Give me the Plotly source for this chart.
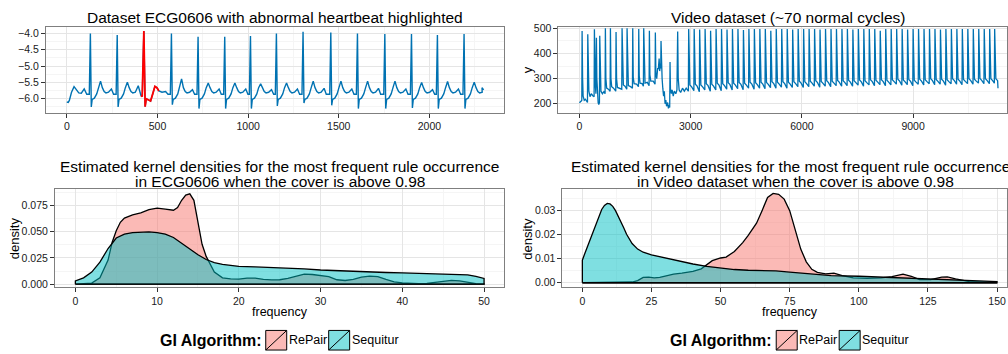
import plotly.graph_objects as go

W, H = 1008, 354
def fx(p):
    return p / W
def fy(p):
    return 1 - p / H

FONT = "Liberation Sans, Arial, sans-serif"
BLUE = "#0072B2"
RED = "#FF0000"
PINK_FILL = "rgba(248,118,109,0.5)"
CYAN_FILL = "rgba(0,191,196,0.5)"
PINK_KEY = "#FBBAB6"
CYAN_KEY = "#7FDFE1"

# ---------------- ECG0606 ----------------
ecg_lead_t = [0, 8, 14, 26, 40, 52, 66, 80, 96, 110]
ecg_lead_v = [-6.10, -6.11, -6.05, -5.80, -5.63, -5.72, -5.82, -5.83, -5.70, -5.86]
ecg_r_t = [130, 278, 425, 577, 724, 871, 1013, 1156, 1303, 1456, 1603, 1754, 1901, 2044, 2191]
ecg_r_v = [-4.00, -4.05, -3.93, -4.00, -4.10, -4.10, -4.08, -4.00, -3.95, -3.97, -4.00, -4.02, -4.02, -4.05, -4.02]
ecg_s_v = [-6.25, -6.25, -6.25, -6.18, -6.30, -6.30, -6.30, -6.22, -6.13, -6.20, -6.30, -6.30, -6.28, -6.30, -6.30]
ecg_t_v = [-5.46, -5.49, None, -5.39, -5.52, -5.52, -5.54, -5.52, -5.46, -5.46, -5.46, -5.46, -5.50, -5.47, -5.49]
ecg_p_v = [-5.70, -5.60, None, -5.72, -5.70, -5.70, -5.72, -5.70, -5.68, -5.70, -5.68, -5.70, -5.72, -5.70, None]
ecg_shape_dt = [-6, 0, 5, 10, 22, 35, 45, 56, 66, 76, 86, 100, 116, 128]
ecg_shape_v = [-5.86, "R", "S", -6.02, -5.98, -5.85, -5.66, "T", -5.66, -5.78, -5.82, -5.80, "P", -5.86]
ecg_red_index = 2
ecg_red_t = [409, 416, 425, 432, 438, 450, 462, 474, 486, 497, 508]
ecg_red_v = [-5.90, -5.93, -3.93, -6.24, -6.00, -6.03, -6.07, -5.85, -5.62, -5.66, -5.76]
ecg_after_red_t = [525, 545, 558]
ecg_after_red_v = [-5.80, -5.78, -5.86]
ecg_tail_t = [2290, 2299]
ecg_tail_v = [-5.66, -5.73]

# ---------------- Video dataset ----------------
vid_early_t = [0, 30, 55, 64, 72, 86, 100, 130, 160, 190, 217, 225, 238, 255, 285, 320, 360, 396, 404,
               418, 430, 445, 452, 458, 470, 485, 505, 521, 540, 548, 560, 580, 620, 660, 692, 700,
               714, 735, 780, 828, 836, 850, 870, 920, 980, 988, 1002, 1025, 1080, 1142, 1150, 1164,
               1185, 1230, 1277, 1285, 1299, 1320, 1380, 1430, 1438, 1452, 1475, 1540, 1592, 1600,
               1614, 1635, 1690, 1726, 1734, 1748, 1770, 1830, 1879, 1887, 1901, 1925, 1990, 2040,
               2048, 2062, 2085, 2110]
vid_early_v = [204, 207, 212, 214, 489, 300, 230, 214, 218, 210, 205, 476, 300, 250, 228, 240, 232, 228, 496,
               320, 270, 240, 300, 463, 300, 235, 205, 197, 205, 470, 300, 250, 240, 248, 240, 500,
               300, 262, 258, 250, 500, 300, 268, 262, 250, 485, 300, 265, 262, 258, 500, 300,
               275, 270, 258, 500, 305, 272, 268, 262, 500, 305, 280, 278, 268, 497,
               310, 282, 280, 270, 500, 310, 282, 285, 272, 490, 315, 290, 290, 278,
               483, 320, 300, 340]
vid_chaos_t = [2130, 2150, 2165, 2185, 2193, 2201, 2212, 2230, 2250, 2270, 2290, 2310, 2330, 2350,
               2380, 2400, 2420, 2435, 2444, 2455, 2480, 2500, 2530, 2560, 2600, 2630, 2650, 2665,
               2690, 2730, 2780, 2830, 2880, 2925]
vid_chaos_v = [340, 380, 330, 360, 340, 450, 330, 300, 260, 230, 250, 200, 215, 190,
               205, 182, 195, 185, 366, 260, 240, 255, 230, 250, 240, 255, 487, 300,
               255, 245, 262, 250, 262, 255]
vid_reg_t = [2947, 3095, 3243, 3390, 3538, 3686, 3833, 3981, 4128, 4276, 4424, 4571, 4719, 4867,
             5014, 5162, 5309, 5457, 5605, 5752, 5900, 6047, 6195, 6343, 6490, 6638, 6786, 6933,
             7081, 7228, 7376, 7524, 7671, 7819, 7966, 8114, 8262, 8409, 8557, 8705, 8852, 9000,
             9147, 9295, 9443, 9590, 9738, 9885, 10033, 10181, 10328, 10476, 10624, 10771, 10919,
             11066, 11200]
vid_reg_v = [497, 497, 495, 497, 490, 497, 497, 495, 497, 497, 493, 497, 497, 497,
             497, 490, 497, 497, 497, 495, 497, 497, 497, 497, 495, 497, 497, 497,
             497, 497, 495, 497, 497, 497, 497, 490, 497, 497, 497, 497, 495, 497,
             497, 497, 497, 497, 495, 497, 497, 497, 497, 497, 497, 497, 497,
             497, 497]
vid_reg_low = [250, 252, 248, 255, 250, 255, 252, 258, 255, 260, 256, 262, 258, 262,
               260, 264, 262, 266, 262, 265, 268, 265, 268, 270, 266, 270, 268, 272,
               270, 272, 270, 274, 270, 275, 272, 276, 272, 275, 278, 274, 276, 272,
               278, 275, 280, 276, 278, 274, 280, 278, 276, 280, 278, 282, 280,
               280, 282]
vid_reg_base = [275, 278, 275, 280, 278, 282, 280, 284, 282, 285, 282, 286, 284, 286,
                285, 288, 286, 288, 286, 288, 290, 288, 290, 292, 289, 292, 290, 293,
                292, 294, 292, 295, 292, 296, 294, 296, 294, 296, 298, 295, 297, 294,
                298, 296, 300, 297, 298, 296, 300, 298, 297, 300, 298, 301, 300,
                300, 300]
vid_tail_t = [11290]
vid_tail_v = [262]
vid_shape_dt = [-8, 0, 14, 32, 80]

# ---------------- Density estimates ----------------
ecg_rp_x = [0, 1, 2, 3, 4, 4.5, 5, 5.5, 6, 7, 8, 9, 10, 11, 12, 12.5, 13, 13.5, 14, 14.5, 15, 15.5, 16, 16.5, 17, 18, 19, 20,
            21, 22, 23, 24, 25, 26, 27, 28, 29, 30, 31, 32, 33, 34, 35, 36, 37, 38, 39, 40, 41, 42, 43,
            44, 45, 46, 47, 48, 49, 50]
ecg_rp_y = [0.0000, 0.0003, 0.0010, 0.0060, 0.0230, 0.0400, 0.0510, 0.0590, 0.0630, 0.0660, 0.0680, 0.0710, 0.0725,
            0.0715, 0.0705, 0.0730, 0.0800, 0.0850, 0.0862, 0.0800, 0.0600, 0.0380, 0.0265, 0.0190, 0.0115,
            0.0060, 0.0050, 0.0048, 0.0058, 0.0058, 0.0045, 0.0040, 0.0042, 0.0055, 0.0075, 0.0095, 0.0092,
            0.0085, 0.0072, 0.0042, 0.0035, 0.0045, 0.0068, 0.0077, 0.0072, 0.0045, 0.0022, 0.0012, 0.0008,
            0.0005, 0.0008, 0.0015, 0.0028, 0.0036, 0.0032, 0.0018, 0.0006, 0.0002]
ecg_sq_x = [0, 1, 2, 3, 4, 5, 6, 7, 8, 9, 10, 11, 12, 13, 14, 15, 16, 17, 18, 19, 20, 22, 25, 28, 30,
            33, 35, 38, 40, 43, 45, 47, 48, 49, 50]
ecg_sq_y = [0.0030, 0.0060, 0.0115, 0.0210, 0.0340, 0.0440, 0.0478, 0.0492, 0.0498, 0.0498, 0.0492,
            0.0478, 0.0445, 0.0390, 0.0335, 0.0280, 0.0235, 0.0205, 0.0188, 0.0177, 0.0170, 0.0164,
            0.0156, 0.0145, 0.0135, 0.0125, 0.0117, 0.0111, 0.0108, 0.0103, 0.0099, 0.0094, 0.0088,
            0.0075, 0.0055]
vid_sq_x = [0, 1, 2, 3, 4, 5, 6, 7, 8, 9, 10, 11, 12, 13, 14, 15, 16, 17, 18, 20, 22, 25, 30, 35, 40,
            45, 50, 55, 60, 65, 70, 75, 80, 85, 90, 100, 110, 120, 130, 140, 150]
vid_sq_y = [0.0094, 0.0125, 0.0155, 0.0190, 0.0220, 0.0250, 0.0280, 0.0305, 0.0322, 0.0330, 0.0328,
            0.0318, 0.0300, 0.0278, 0.0254, 0.0228, 0.0202, 0.0180, 0.0163, 0.0140, 0.0127, 0.0116,
            0.0103, 0.0090, 0.0078, 0.0068, 0.0060, 0.0055, 0.0052, 0.0051, 0.0049, 0.0044, 0.0039,
            0.0034, 0.0030, 0.0027, 0.0023, 0.0019, 0.0013, 0.0009, 0.0005]
vid_rp_x = [0, 10, 15, 18, 20, 22, 24, 26, 28, 30, 33, 36, 40, 43, 45, 47, 50, 52, 55, 58, 60, 63, 65, 67,
            69, 71, 73, 75, 77, 79, 81, 83, 85, 88, 91, 94, 98, 103, 108, 112, 116, 119, 122, 126, 130,
            132, 135, 140, 145, 150]
vid_rp_y = [0.0000, 0.0000, 0.0001, 0.0003, 0.0009, 0.0022, 0.0023, 0.0020, 0.0022, 0.0028, 0.0036,
            0.0040, 0.0047, 0.0058, 0.0074, 0.0092, 0.0103, 0.0107, 0.0130, 0.0167, 0.0197, 0.0248,
            0.0300, 0.0355, 0.0372, 0.0368, 0.0348, 0.0300, 0.0220, 0.0140, 0.0087, 0.0056, 0.0043,
            0.0037, 0.0040, 0.0030, 0.0020, 0.0018, 0.0020, 0.0025, 0.0036, 0.0027, 0.0013, 0.0013,
            0.0023, 0.0024, 0.0016, 0.0005, 0.0002, 0.0001]

# ---------------- build series ----------------
ecg_t, ecg_v = list(ecg_lead_t), list(ecg_lead_v)
for i, r in enumerate(ecg_r_t):
    if i == ecg_red_index:
        ecg_t += ecg_red_t + ecg_after_red_t
        ecg_v += ecg_red_v + ecg_after_red_v
        continue
    vals = {"R": ecg_r_v[i], "S": ecg_s_v[i], "T": ecg_t_v[i], "P": ecg_p_v[i]}
    for dt, lv in zip(ecg_shape_dt, ecg_shape_v):
        v = vals[lv] if isinstance(lv, str) else lv
        if v is None:
            break
        ecg_t.append(r + dt)
        ecg_v.append(v)
ecg_t += ecg_tail_t
ecg_v += ecg_tail_v

vid_t = list(vid_early_t) + list(vid_chaos_t)
vid_v = list(vid_early_v) + list(vid_chaos_v)
for p, h, l, b in zip(vid_reg_t, vid_reg_v, vid_reg_low, vid_reg_base):
    for dt, v in zip(vid_shape_dt, [l, h, b + 30, b, b - 8]):
        vid_t.append(p + dt)
        vid_v.append(v)
vid_t += vid_tail_t
vid_v += vid_tail_v

def closed(xs, ys):
    return [xs[0]] + list(xs) + [xs[-1], xs[0]], [0] + list(ys) + [0, 0]

fig = go.Figure()
fig.add_trace(go.Scatter(x=ecg_t, y=ecg_v, mode="lines", line=dict(color=BLUE, width=1.4),
                         xaxis="x", yaxis="y", showlegend=False))
fig.add_trace(go.Scatter(x=ecg_red_t, y=ecg_red_v, mode="lines", line=dict(color=RED, width=1.8),
                         xaxis="x", yaxis="y", showlegend=False))
fig.add_trace(go.Scatter(x=vid_t, y=vid_v, mode="lines", line=dict(color=BLUE, width=1.3),
                         xaxis="x2", yaxis="y2", showlegend=False))

for (xs, ys, col, ax, ay) in [(ecg_rp_x, ecg_rp_y, PINK_FILL, "x3", "y3"),
                              (ecg_sq_x, ecg_sq_y, CYAN_FILL, "x3", "y3"),
                              (vid_rp_x, vid_rp_y, PINK_FILL, "x4", "y4"),
                              (vid_sq_x, vid_sq_y, CYAN_FILL, "x4", "y4")]:
    cx, cy = closed(xs, ys)
    fig.add_trace(go.Scatter(x=cx, y=cy, mode="lines", fill="toself", fillcolor=col,
                             line=dict(color="black", width=1.3),
                             xaxis=ax, yaxis=ay, showlegend=False))

def axis(domain, rng, dtick, minor, anchor, tick0=0, fmt=None):
    d = dict(domain=domain, range=rng, dtick=dtick, tick0=tick0, anchor=anchor,
             showline=True, linecolor="#7F7F7F", linewidth=1, mirror=True,
             ticks="outside", ticklen=4, tickcolor="#333333", tickwidth=1,
             tickfont=dict(family=FONT, size=10.5, color="#1a1a1a"),
             showgrid=True, gridcolor="#E5E5E5", gridwidth=1, zeroline=False,
             minor=dict(dtick=minor, tick0=tick0, showgrid=True, gridcolor="#F5F5F5", gridwidth=1, ticks=""))
    if fmt:
        d["tickformat"] = fmt
    return d

top_y = [fy(110), fy(22)]
bot_y = [fy(288), fy(188)]
fig.update_layout(
    width=W, height=H, margin=dict(l=0, r=0, t=0, b=0),
    paper_bgcolor="white", plot_bgcolor="white",
    font=dict(family=FONT, color="black"),
    xaxis=axis([fx(46), fx(505)], [-115, 2414], 500, 250, "y", fmt="d"),
    yaxis=axis(top_y, [-6.43, -3.79], 0.5, 0.25, "x", tick0=-4, fmt=".1f"),
    xaxis2=axis([fx(559), 1.0], [-566, 11533], 3000, 1500, "y2", fmt="d"),
    yaxis2=axis(top_y, [164, 507], 100, 50, "x2", fmt="d"),
    xaxis3=axis([fx(55), fx(505)], [-2.5, 52.5], 10, 5, "y3", fmt="d"),
    yaxis3=axis(bot_y, [-0.003, 0.0905], 0.025, 0.0125, "x3", fmt=".3f"),
    xaxis4=axis([fx(563), 1.0], [-7.2, 153.6], 25, 12.5, "y4", fmt="d"),
    yaxis4=axis(bot_y, [-0.0019, 0.0389], 0.01, 0.005, "x4", fmt=".2f"),
)

ann = []
def text(x, y, s, size, bold=False, angle=0, xanchor="center"):
    ann.append(dict(x=fx(x), y=fy(y), xref="paper", yref="paper", text=("<b>%s</b>" % s) if bold else s,
                    showarrow=False, xanchor=xanchor, yanchor="middle", textangle=angle,
                    borderpad=0, font=dict(family=FONT, size=size, color="black")))

text(275.5, 13, "Dataset ECG0606 with abnormal heartbeat highlighted", 15.5)
text(789, 13, "Video dataset (~70 normal cycles)", 15.5)
text(280, 165, "Estimated kernel densities for the most frequent rule occurrence", 15.5)
text(280, 180, "in ECG0606 when the cover is above 0.98", 15.5)
text(791, 165, "Estimated kernel densities for the most frequent rule occurrence", 15.5)
text(796, 180, "in Video dataset when the cover is above 0.98", 15.5)
text(528, 66, "y", 13, angle=-90)
text(14, 238, "density", 13, angle=-90)
text(528, 238, "density", 13, angle=-90)
text(280, 313, "frequency", 12.5)
text(791, 313, "frequency", 12.5)

shapes = []
def legend(x_title, x_box1, x_box2):
    text(x_title, 342, "GI Algorithm:", 16, bold=True, xanchor="left")
    for xb, col, lab in [(x_box1, PINK_KEY, "RePair"), (x_box2, CYAN_KEY, "Sequitur")]:
        shapes.append(dict(type="rect", xref="paper", yref="paper", x0=fx(xb), x1=fx(xb + 21),
                           y0=fy(352), y1=fy(332), fillcolor=col, line=dict(color="black", width=1)))
        shapes.append(dict(type="line", xref="paper", yref="paper", x0=fx(xb), x1=fx(xb + 21),
                           y0=fy(352), y1=fy(332), line=dict(color="black", width=1)))
        text(xb + 22, 342, lab, 12.5, xanchor="left")

legend(159, 266, 329)
legend(670, 777, 840)

fig.update_layout(annotations=ann, shapes=shapes)
fig.write_html("out.html")
